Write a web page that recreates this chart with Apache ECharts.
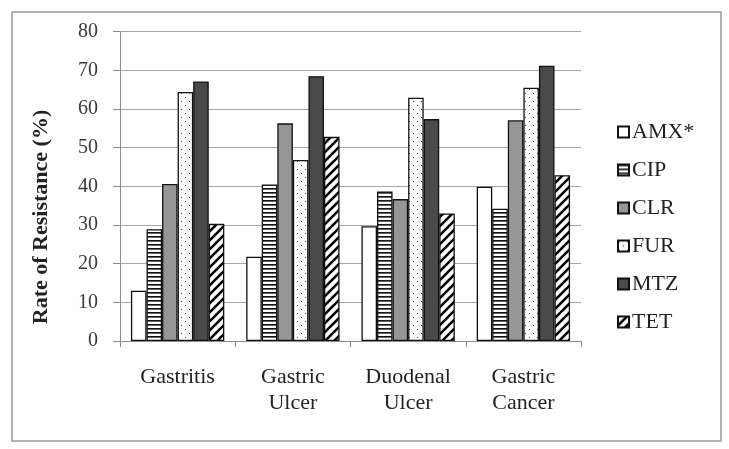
<!DOCTYPE html>
<html>
<head>
<meta charset="utf-8">
<script src="https://cdn.jsdelivr.net/npm/echarts@6/dist/echarts.min.js"></script>
<style>
html,body{margin:0;padding:0;background:#fff;}
#chart{width:729px;height:449px;}
</style>
</head>
<body>
<div id="chart"></div>
<script>
var categories = ['Gastritis', 'Gastric\nUlcer', 'Duodenal\nUlcer', 'Gastric\nCancer'];
var seriesNames = ['AMX*', 'CIP', 'CLR', 'FUR', 'MTZ', 'TET'];
var AMX = [13.0, 21.8, 29.7, 39.9];
var CIP = [28.9, 40.5, 38.7, 34.2];
var CLR = [40.6, 56.3, 36.7, 57.1];
var FUR = [64.4, 46.8, 62.9, 65.5];
var MTZ = [67.1, 68.5, 57.4, 71.2];
var TET = [30.3, 52.8, 33.0, 42.9];
var yTicks = [0, 10, 20, 30, 40, 50, 60, 70, 80];

function makeCanvas(w, h, draw) {
  var c = document.createElement('canvas');
  c.width = w; c.height = h;
  var ctx = c.getContext('2d');
  ctx.fillStyle = '#fff';
  ctx.fillRect(0, 0, w, h);
  draw(ctx);
  return { image: c, repeat: 'repeat' };
}
var hStripe = makeCanvas(4, 4, function (ctx) {
  ctx.fillStyle = '#111';
  ctx.fillRect(0, 0, 4, 1);
  ctx.fillStyle = '#666';
  ctx.fillRect(0, 1, 4, 1);
});
var dots = makeCanvas(8, 8, function (ctx) {
  ctx.fillStyle = '#444';
  ctx.fillRect(1, 1, 1, 1);
  ctx.fillRect(5, 5, 1, 1);
});
var diag = makeCanvas(9, 9, function (ctx) {
  ctx.strokeStyle = '#000';
  ctx.lineWidth = 2.6;
  ctx.beginPath();
  ctx.moveTo(-2, 11); ctx.lineTo(11, -2);
  ctx.moveTo(-2, 2); ctx.lineTo(2, -2);
  ctx.moveTo(7, 11); ctx.lineTo(11, 7);
  ctx.stroke();
});

var fills = ['#ffffff', hStripe, '#969696', dots, '#4a4a4a', diag];
var dataArr = [AMX, CIP, CLR, FUR, MTZ, TET];

var series = seriesNames.map(function (n, i) {
  return {
    name: n,
    type: 'bar',
    data: dataArr[i],
    barGap: '0%',
    barCategoryGap: '19%',
    itemStyle: { color: fills[i], borderColor: '#111', borderWidth: 1.3 },
    emphasis: { disabled: true }
  };
});

var chart = echarts.init(document.getElementById('chart'), null, { renderer: 'canvas' });
chart.setOption({
  animation: false,
  backgroundColor: '#fff',
  grid: { left: 120, right: 148, top: 31.7, bottom: 108 },
  legend: {
    orient: 'vertical',
    left: 612,
    top: 116,
    itemWidth: 11,
    itemHeight: 11,
    itemGap: 16,
    icon: 'rect',
    textStyle: { fontFamily: 'Liberation Serif', fontSize: 22, color: '#222', lineHeight: 22, padding: [0, 0, 0, -2] },
    data: seriesNames
  },
  xAxis: {
    type: 'category',
    data: categories,
    axisLine: { lineStyle: { color: '#8c8c8c', width: 1 } },
    axisTick: { show: true, length: 6, lineStyle: { color: '#8c8c8c' } },
    axisLabel: { fontFamily: 'Liberation Serif', fontSize: 22, color: '#222', lineHeight: 26, margin: 23 }
  },
  yAxis: {
    type: 'value',
    min: yTicks[0],
    max: yTicks[yTicks.length - 1],
    interval: 10,
    axisLine: { show: true, lineStyle: { color: '#8c8c8c', width: 1 } },
    axisTick: { show: true, length: 7, lineStyle: { color: '#8c8c8c' } },
    axisLabel: { fontFamily: 'Liberation Serif', fontSize: 20, color: '#3a3a3a', margin: 22 },
    splitLine: { lineStyle: { color: '#a6a6a6', width: 1.2 } }
  },
  graphic: [
    { type: 'rect', left: 9.5, top: 9.5, shape: { width: 709, height: 429 }, style: { fill: 'none', stroke: '#9a9a9a', lineWidth: 1.5 }, z: -1 },
    { type: 'text', x: 41, y: 217, rotation: Math.PI / 2,
      style: { text: 'Rate of Resistance (%)', font: 'bold 22px "Liberation Serif"', fill: '#222', textAlign: 'center', textVerticalAlign: 'middle' } }
  ],
  series: series
});
</script>
</body>
</html>
